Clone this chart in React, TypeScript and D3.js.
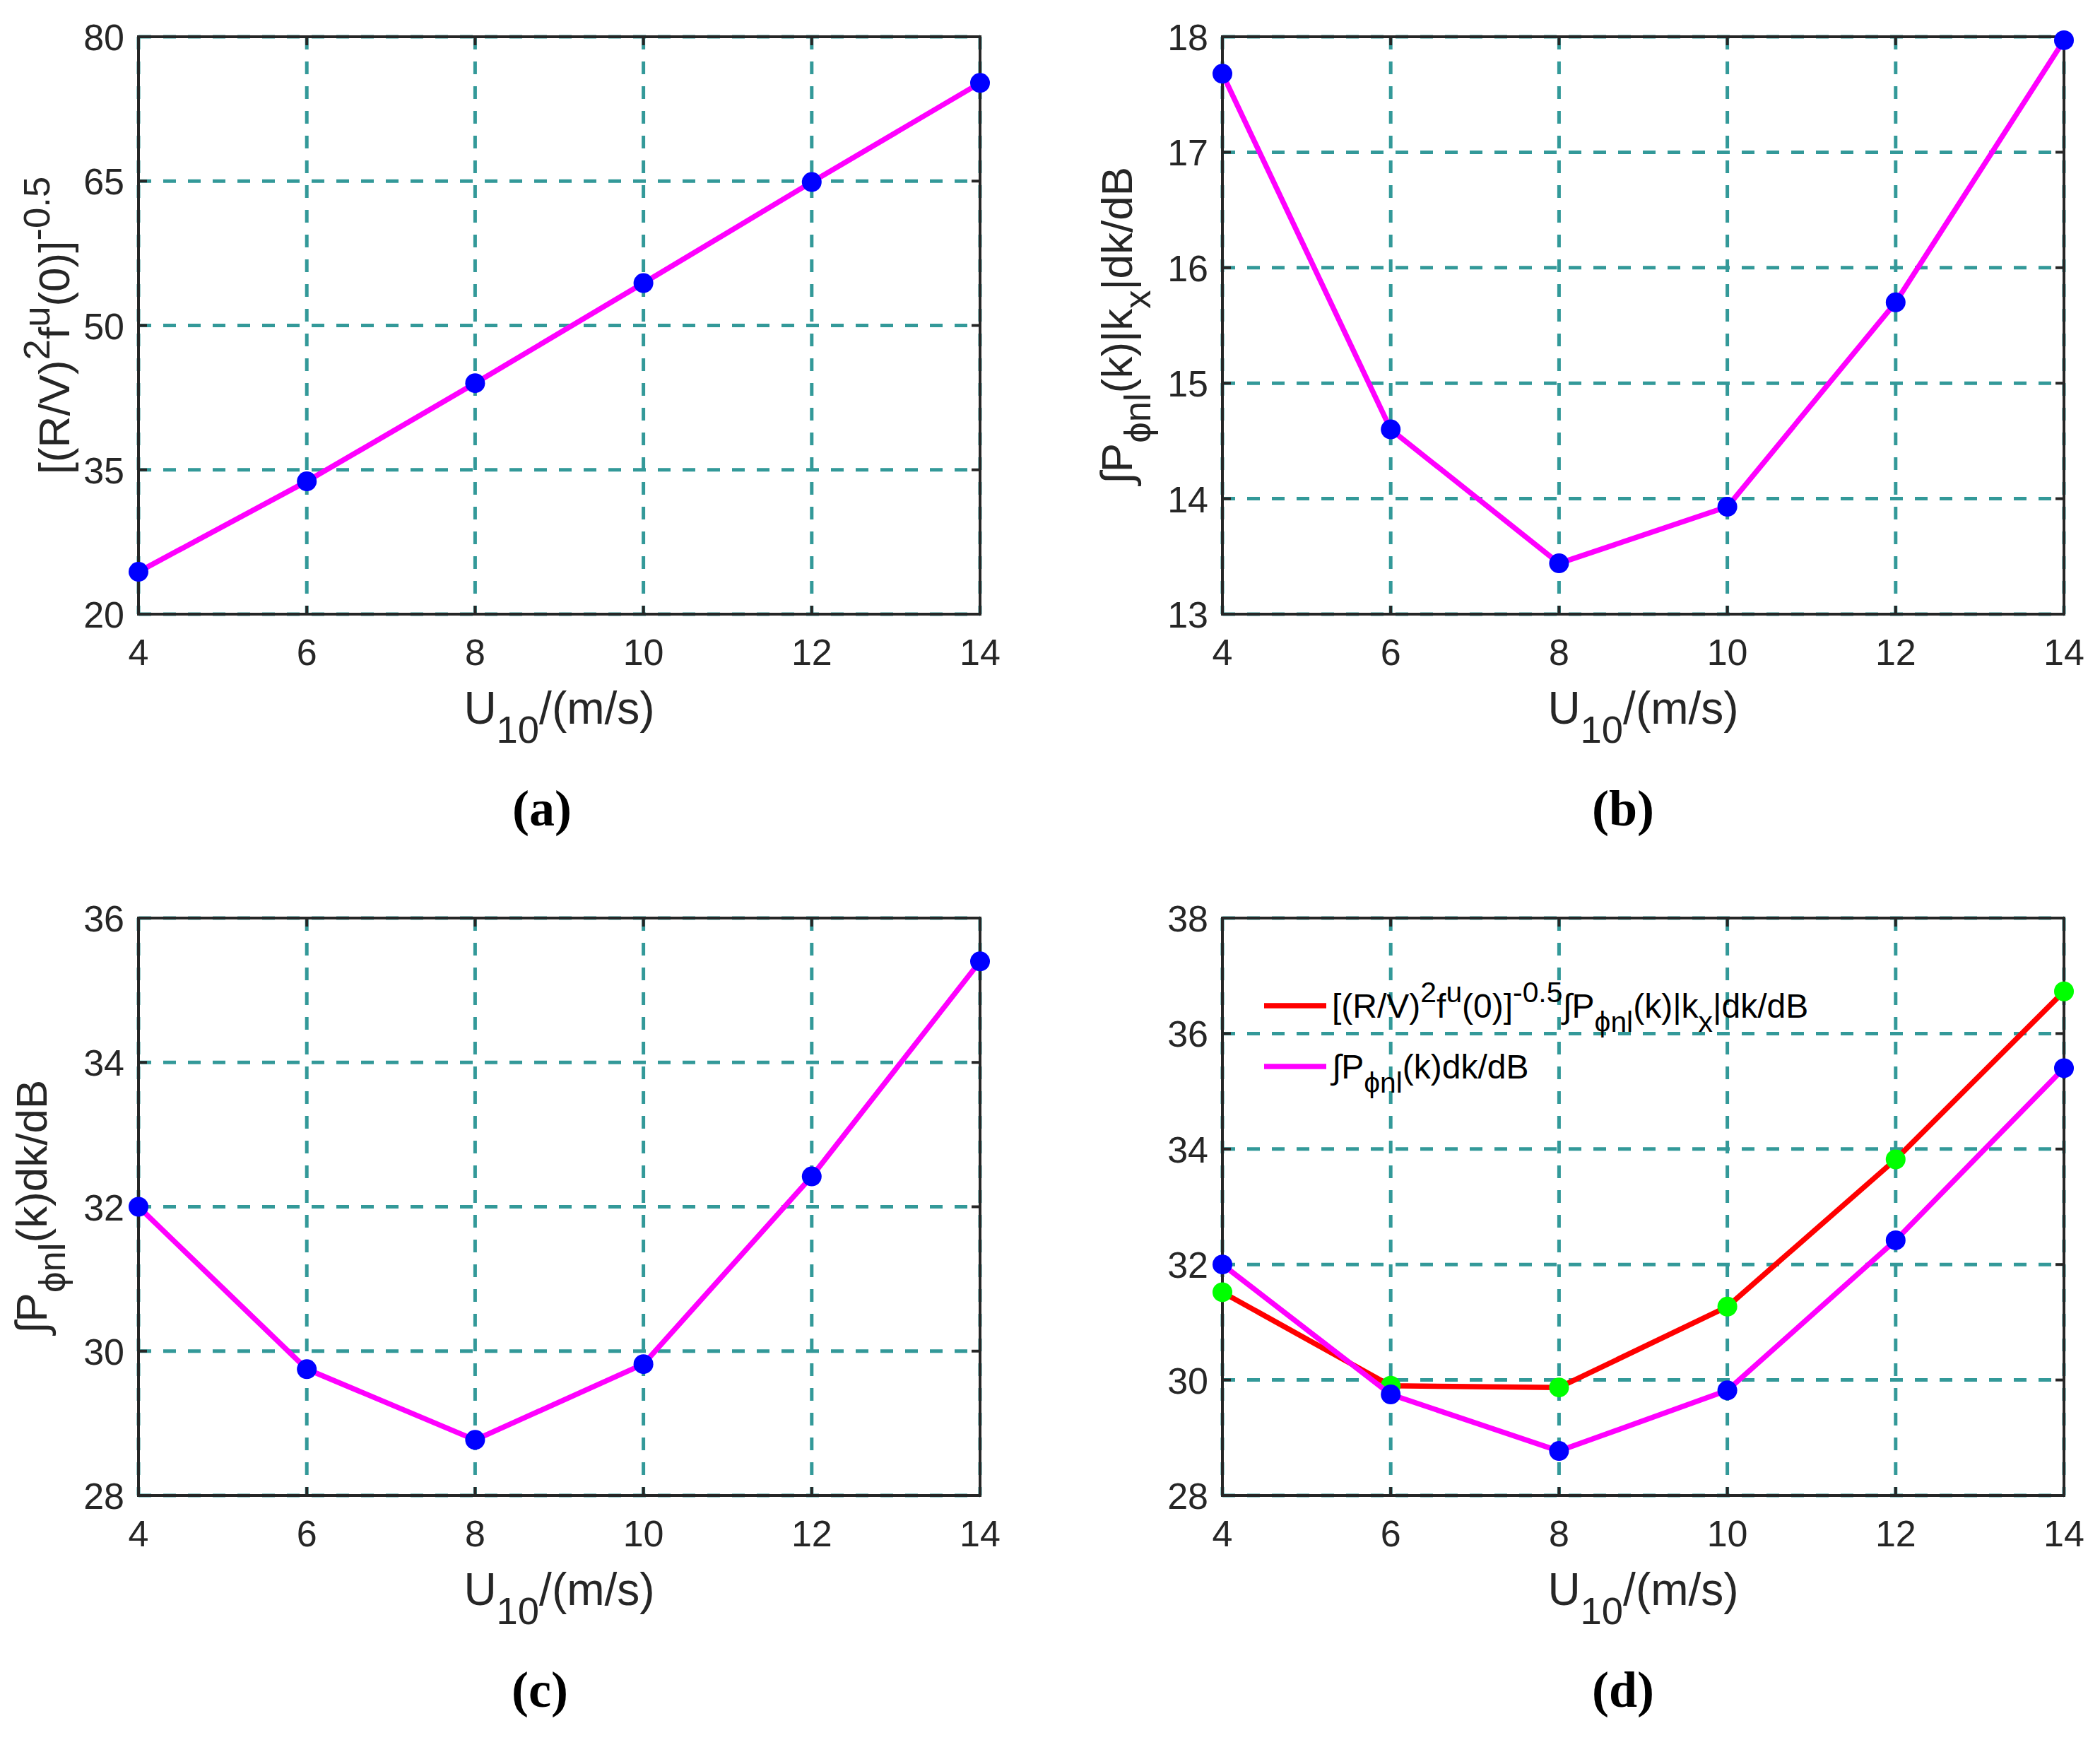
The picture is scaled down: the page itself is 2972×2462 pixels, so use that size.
import React, { useRef, useEffect } from 'react'
import * as d3 from 'd3'

// wind speed U10 (m/s), shared x values of all four panels
const U10 = [4, 6, 8, 10, 12, 14]
const X_TICKS = [4, 6, 8, 10, 12, 14]

// (a) [(R/V)^2 f^u(0)]^-0.5
const VALUES_A = [24.4, 33.8, 44.0, 54.4, 64.9, 75.2]
const Y_TICKS_A = [20, 35, 50, 65, 80]

// (b) integral of P(k)|kx| dk in dB
const VALUES_B = [17.68, 14.6, 13.44, 13.93, 15.7, 17.97]
const Y_TICKS_B = [13, 14, 15, 16, 17, 18]

// (c) integral of P(k) dk in dB
const VALUES_C = [32.0, 29.75, 28.77, 29.82, 32.42, 35.4]
const Y_TICKS_C = [28, 30, 32, 34, 36]

// (d) weighted integral vs plain integral
const VALUES_D_WEIGHTED = [31.52, 29.9, 29.87, 31.27, 33.82, 36.73]
const VALUES_D_PLAIN = VALUES_C
const Y_TICKS_D = [28, 30, 32, 34, 36, 38]

type Seg = { t: string; s?: 'sub' | 'sup' }

const X_LABEL: Seg[] = [{ t: 'U' }, { t: '10', s: 'sub' }, { t: '/(m/s)' }]
const LABEL_GAIN: Seg[] = [
  { t: '[(R/V)' }, { t: '2', s: 'sup' }, { t: 'f' }, { t: 'u', s: 'sup' }, { t: '(0)]' }, { t: '-0.5', s: 'sup' },
]
const LABEL_KX: Seg[] = [
  { t: '∫P' }, { t: 'ϕnl', s: 'sub' }, { t: '(k)|k' }, { t: 'x', s: 'sub' }, { t: '|dk/dB' },
]
const LABEL_PLAIN: Seg[] = [{ t: '∫P' }, { t: 'ϕnl', s: 'sub' }, { t: '(k)dk/dB' }]
const LEGEND_WEIGHTED: Seg[] = [...LABEL_GAIN, ...LABEL_KX]

const C = {
  axis: '#262626',
  grid: '#339999',
  magenta: '#FF00FF',
  blue: '#0000FF',
  red: '#FF0000',
  green: '#00FF00',
}

const FONT = '"Liberation Sans", Arial, Helvetica, sans-serif'
const PANEL_W = 1191
const PANEL_H = 817

interface Series { values: number[]; line: string; marker: string }
interface Panel {
  left: number
  top: number
  yDomain: [number, number]
  yTicks: number[]
  series: Series[]
  yLabel?: Seg[]
  yLabelX?: number
  tag: string
  tagX: number
  legend?: { segs: Seg[]; color: string }[]
}

const PANELS: Panel[] = [
  {
    left: 196, top: 52, yDomain: [20, 80], yTicks: Y_TICKS_A,
    series: [{ values: VALUES_A, line: C.magenta, marker: C.blue }],
    yLabel: LABEL_GAIN, yLabelX: 98, tag: '(a)', tagX: 767,
  },
  {
    left: 1730, top: 52, yDomain: [13, 18], yTicks: Y_TICKS_B,
    series: [{ values: VALUES_B, line: C.magenta, marker: C.blue }],
    yLabel: LABEL_KX, yLabelX: 1602, tag: '(b)', tagX: 2297,
  },
  {
    left: 196, top: 1299, yDomain: [28, 36], yTicks: Y_TICKS_C,
    series: [{ values: VALUES_C, line: C.magenta, marker: C.blue }],
    yLabel: LABEL_PLAIN, yLabelX: 66, tag: '(c)', tagX: 764,
  },
  {
    left: 1730, top: 1299, yDomain: [28, 38], yTicks: Y_TICKS_D,
    series: [
      { values: VALUES_D_WEIGHTED, line: C.red, marker: C.green },
      { values: VALUES_D_PLAIN, line: C.magenta, marker: C.blue },
    ],
    tag: '(d)', tagX: 2297,
    legend: [
      { segs: LEGEND_WEIGHTED, color: C.red },
      { segs: LABEL_PLAIN, color: C.magenta },
    ],
  },
]

// writes tex-like text with sub/superscripts as tspans
function richText(sel: d3.Selection<SVGTextElement, unknown, null, undefined>, segs: Seg[], size: number) {
  let cur = 0
  segs.forEach(seg => {
    const shift = seg.s === 'sub' ? size * 0.42 : seg.s === 'sup' ? -size * 0.45 : 0
    sel.append('tspan')
      .attr('dy', shift - cur)
      .attr('font-size', seg.s ? size * 0.85 : size)
      .text(seg.t)
    cur = shift
  })
}

export default function App() {
  const svgRef = useRef<SVGSVGElement>(null)

  useEffect(() => {
    if (!svgRef.current) return
    const svg = d3.select(svgRef.current)
    svg.selectAll('*').remove()

    PANELS.forEach(p => {
      const x = d3.scaleLinear().domain([4, 14]).range([p.left, p.left + PANEL_W])
      const y = d3.scaleLinear().domain(p.yDomain).range([p.top + PANEL_H, p.top])
      const bottom = p.top + PANEL_H
      const right = p.left + PANEL_W
      const g = svg.append('g')

      // dashed grid
      g.selectAll('.gx').data(X_TICKS).enter().append('line')
        .attr('x1', d => x(d)).attr('x2', d => x(d))
        .attr('y1', p.top).attr('y2', bottom)
        .attr('stroke', C.grid).attr('stroke-width', 5).attr('stroke-dasharray', '18,17')
      g.selectAll('.gy').data(p.yTicks).enter().append('line')
        .attr('x1', p.left).attr('x2', right)
        .attr('y1', d => y(d)).attr('y2', d => y(d))
        .attr('stroke', C.grid).attr('stroke-width', 5).attr('stroke-dasharray', '18,17')

      // box and inward ticks
      g.append('rect')
        .attr('x', p.left).attr('y', p.top).attr('width', PANEL_W).attr('height', PANEL_H)
        .attr('fill', 'none').attr('stroke', C.axis).attr('stroke-width', 4)
      const tl = 12
      X_TICKS.forEach(t => {
        g.append('line').attr('x1', x(t)).attr('x2', x(t)).attr('y1', bottom).attr('y2', bottom - tl)
          .attr('stroke', C.axis).attr('stroke-width', 4)
        g.append('line').attr('x1', x(t)).attr('x2', x(t)).attr('y1', p.top).attr('y2', p.top + tl)
          .attr('stroke', C.axis).attr('stroke-width', 4)
      })
      p.yTicks.forEach(t => {
        g.append('line').attr('x1', p.left).attr('x2', p.left + tl).attr('y1', y(t)).attr('y2', y(t))
          .attr('stroke', C.axis).attr('stroke-width', 4)
        g.append('line').attr('x1', right).attr('x2', right - tl).attr('y1', y(t)).attr('y2', y(t))
          .attr('stroke', C.axis).attr('stroke-width', 4)
      })

      // tick labels
      g.selectAll('.xt').data(X_TICKS).enter().append('text')
        .attr('x', d => x(d)).attr('y', bottom + 72)
        .attr('text-anchor', 'middle').attr('font-size', 52).attr('fill', C.axis)
        .style('font-family', FONT).text(d => d)
      g.selectAll('.yt').data(p.yTicks).enter().append('text')
        .attr('x', p.left - 20).attr('y', d => y(d) + 19)
        .attr('text-anchor', 'end').attr('font-size', 52).attr('fill', C.axis)
        .style('font-family', FONT).text(d => d)

      // axis labels
      const xl = g.append('text')
        .attr('x', (p.left + right) / 2).attr('y', bottom + 155)
        .attr('text-anchor', 'middle').attr('fill', C.axis).style('font-family', FONT)
      richText(xl, X_LABEL, 64)
      if (p.yLabel) {
        const yl = g.append('text')
          .attr('transform', `translate(${p.yLabelX},${(p.top + bottom) / 2}) rotate(-90)`)
          .attr('text-anchor', 'middle').attr('fill', C.axis).style('font-family', FONT)
        richText(yl, p.yLabel, 62)
      }

      // data lines and markers
      p.series.forEach(s => {
        const pts = U10.map((u, i) => [u, s.values[i]] as [number, number])
        g.append('path')
          .datum(pts)
          .attr('d', d3.line<[number, number]>().x(d => x(d[0])).y(d => y(d[1])))
          .attr('fill', 'none').attr('stroke', s.line).attr('stroke-width', 7.5)
          .attr('stroke-linejoin', 'round')
        g.selectAll(null).data(pts).enter().append('circle')
          .attr('cx', d => x(d[0])).attr('cy', d => y(d[1])).attr('r', 14)
          .attr('fill', s.marker)
      })

      // legend (panel d only)
      if (p.legend) {
        p.legend.forEach((item, i) => {
          const ly = p.top + 124 + i * 86
          g.append('line')
            .attr('x1', p.left + 59).attr('x2', p.left + 147)
            .attr('y1', ly).attr('y2', ly)
            .attr('stroke', item.color).attr('stroke-width', 7.5)
          const lt = g.append('text')
            .attr('x', p.left + 155).attr('y', ly + 17)
            .attr('fill', '#000000').style('font-family', FONT)
          richText(lt, item.segs, 48)
        })
      }

      // panel tag
      g.append('text')
        .attr('x', p.tagX).attr('y', p.top + 1116)
        .attr('text-anchor', 'middle').attr('font-size', 72).attr('font-weight', 'bold')
        .attr('fill', '#000000')
        .style('font-family', '"Liberation Serif", "Times New Roman", serif')
        .text(p.tag)
    })
  }, [])

  return (
    <svg
      ref={svgRef}
      width={2972}
      height={2462}
      style={{ position: 'absolute', left: 0, top: 0, backgroundColor: '#FFFFFF' }}
    />
  )
}
